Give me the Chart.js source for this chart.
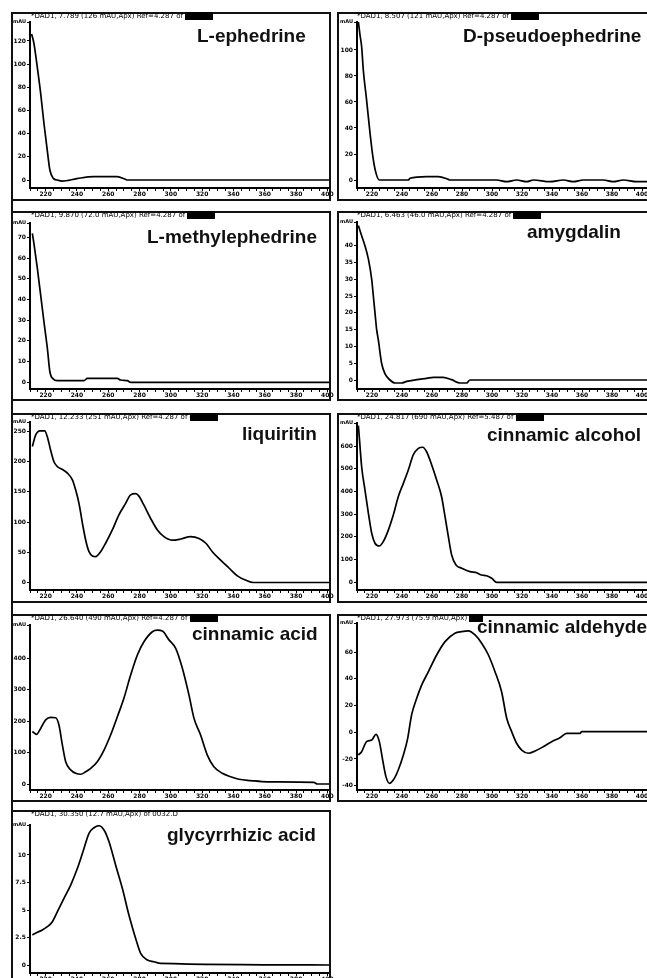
<!DOCTYPE html>
<html>
<head>
<meta charset="utf-8">
<script src="https://cdn.jsdelivr.net/npm/chart.js@4.4.1/dist/chart.umd.min.js"></script>
<style>
  html, body { margin: 0; padding: 0; background: #fff; overflow: hidden; width: 647px; height: 978px; }
  .frame { position: absolute; border: 2px solid #111; box-sizing: border-box; pointer-events: none; }
  .edge { position: absolute; left: 11px; top: 12px; width: 2px; height: 970px; background: #111; }
  canvas { position: absolute; }
  .name { position: absolute; font: bold 19px "Liberation Sans", Arial, sans-serif; line-height: 19px; white-space: nowrap; color: #111; }
  .head { position: absolute; font: 7px "DejaVu Sans", sans-serif; line-height: 7px; white-space: nowrap; color: #000; }
  .head b { background: #000; }
</style>
</head>
<body>
<div class="edge"></div>
<script>
// wavelength tick labels (nm), shared by every panel
const wlTicks = [220, 240, 260, 280, 300, 320, 340, 360, 380, 400];

const names = ['L-ephedrine', 'D-pseudoephedrine', 'L-methylephedrine', 'amygdalin',
  'liquiritin', 'cinnamic alcohol', 'cinnamic acid', 'cinnamic aldehyde', 'glycyrrhizic acid'];

const headers = [
  ['*DAD1, 7.789 (126 mAU,Apx) Ref=4.287 of ', '0032.D'],
  ['*DAD1, 8.507 (121 mAU,Apx) Ref=4.287 of ', '0032.D'],
  ['*DAD1, 9.870 (72.0 mAU,Apx) Ref=4.287 of ', '0032.D'],
  ['*DAD1, 6.463 (46.0 mAU,Apx) Ref=4.287 of ', '0032.D'],
  ['*DAD1, 12.233 (251 mAU,Apx) Ref=4.287 of ', '0032.D'],
  ['*DAD1, 24.817 (690 mAU,Apx) Ref=5.487 of ', '0032.D'],
  ['*DAD1, 26.640 (490 mAU,Apx) Ref=4.287 of ', '0032.D'],
  ['*DAD1, 27.973 (75.9 mAU,Apx) ', 'R.D'],
  ['*DAD1, 30.350 (12.7 mAU,Apx) of 0032.D', ''],
];

// spectra: wavelength (nm) / absorbance (mAU), y tick labels
const ephedrineWl = [211, 212.5, 214.6, 216.8, 218.9, 221, 222.7, 224.9, 227.4, 230.6, 240, 250.7, 265.6, 271, 272, 402];
const ephedrineAbs = [126, 118, 98, 75, 49, 26, 8.6, 1.4, 0, -1, 1.2, 2.9, 2.9, 0.6, 0, 0];
const ephedrineTicks = [0, 20, 40, 60, 80, 100, 120];

const pseudoWl = [210.9, 212, 213.1, 214.2, 216.4, 218.7, 220.9, 222.7, 224.9, 244.2, 245.3, 256.4, 264.2, 270.9, 272,
  303, 309.8, 316.4, 323.1, 327.6, 338.7, 347.6, 354.2, 360.9, 374.2, 380.9, 387.6, 396.4, 408];
const pseudoAbs = [121.8, 111.5, 102.5, 84.6, 61.5, 35.9, 15.4, 5.1, 0, 0, 1.3, 2.6, 2.6, 0.5, 0,
  0, -1.3, 0, -1.3, 0, -1.3, 0, -1.3, 0, 0, -1.3, 0, -1.3, -1.3];
const pseudoTicks = [0, 20, 40, 60, 80, 100];

const methylWl = [211.5, 212.5, 214.7, 216.8, 218.9, 221.1, 222.7, 224.9, 227.4, 244.5, 246.6, 265.8, 267.9, 272.2, 274.3, 402];
const methylAbs = [72, 67.1, 55, 42.2, 29.3, 16.4, 5.1, 1.6, 0.8, 0.8, 1.9, 1.9, 1.1, 0.8, 0, 0];
const methylTicks = [0, 10, 20, 30, 40, 50, 60, 70];

const amygdalinWl = [210.9, 213.1, 215.3, 217.6, 219.8, 220.9, 222, 223.1, 224.2, 226.4, 228.7, 232, 235.3, 239.8,
  243.1, 249.8, 256.4, 260.9, 267.5, 273.1, 278.7, 283.1, 285.3, 408];
const amygdalinAbs = [46, 43, 40, 36, 30, 25, 20, 15, 12, 5, 1.8, 0, -0.9, -0.9,
  -0.4, 0.1, 0.5, 0.8, 0.8, 0.1, -0.9, -0.9, 0, 0];
const amygdalinTicks = [0, 5, 10, 15, 20, 25, 30, 35, 40];

const liquiritinWl = [211.5, 213.6, 216.4, 219.4, 221.1, 223.2, 225.3, 227.5, 230.7, 233.9, 237.1, 239.2, 241.3, 243.5,
  245.6, 247.7, 249.9, 252, 255.1, 258.3, 262.6, 266.8, 271.1, 274.3, 277.5, 279.6, 282.8, 287.1, 291.4, 295.6,
  301, 306.3, 312.7, 318, 322.4, 326.5, 331.8, 337.1, 342.5, 347.8, 352.7, 402];
const liquiritinAbs = [225, 244, 251, 251, 241, 219, 200, 192, 187, 181, 170, 153, 131, 98,
  70, 51, 44, 43, 51, 65, 87, 112, 131, 145, 147, 143, 128, 106, 87, 76,
  70, 72, 76, 73, 65, 51, 37, 24, 11, 4, 0, 0];
const liquiritinTicks = [0, 50, 100, 150, 200, 250];

const alcoholWl = [210.9, 211.6, 213.1, 215.3, 217.6, 219.8, 222, 224.9, 227.5, 230.9, 234.2, 237.5, 240.9, 244.2,
  247.5, 250.9, 253.8, 256.4, 259.8, 263.1, 266.4, 268.7, 270.9, 273.1, 276, 279.8, 285.3, 289.8, 293.1, 296.4,
  299.8, 303.1, 408];
const alcoholAbs = [690, 634, 509, 407, 304, 216, 172, 160, 179, 230, 296, 377, 436, 495,
  561, 590, 595, 575, 517, 451, 377, 289, 201, 120, 76, 62, 47, 42, 32, 29,
  18, 0, 0];
const alcoholTicks = [0, 100, 200, 300, 400, 500, 600];

const acidWl = [211.5, 214.2, 216.8, 220, 223.2, 226.4, 228.5, 230.7, 232.8, 236, 239.2, 242.4, 245.6, 248.8,
  253, 257.3, 261.5, 265.8, 270, 274.3, 278.6, 282.8, 288.2, 291.4, 294.6, 298.8, 303.1, 307.4, 311.6, 314.8,
  319, 323.3, 327.5, 332.9, 338.2, 343.5, 351, 361.7, 391.4, 393.6, 402];
const acidAbs = [167, 158, 177, 204, 212, 211, 188, 124, 71, 45, 34, 31, 39, 50,
  71, 108, 156, 214, 273, 347, 411, 453, 485, 490, 487, 459, 432, 368, 283, 209,
  156, 92, 55, 34, 23, 15, 11, 7, 5, 0, 0];
const acidTicks = [0, 100, 200, 300, 400];

const aldehydeWl = [210.9, 213.1, 216.4, 219.8, 222.7, 224.9, 227.1, 229.3, 231.6, 234.2, 237.5, 240.9, 243.8, 246.4,
  249.8, 253.1, 257.6, 263.1, 268.7, 275.3, 279.8, 284.2, 288.7, 293.1, 297.6, 302, 306.4, 309.8, 313.1, 316.4,
  319.8, 324.2, 328.7, 334.2, 339.8, 345.3, 349.8, 358.7, 359.8, 408];
const aldehydeAbs = [-17, -14.5, -7, -5.8, -1.5, -7, -20.7, -33.2, -38.2, -35.7, -28.2, -17, -4.5, 13,
  25.5, 35.4, 45.4, 57.9, 67.9, 74.2, 75.4, 75.9, 72.9, 66.7, 57.9, 45.4, 30.4, 10.5, 0.5, -8.2,
  -13.3, -15.7, -14, -10.8, -7, -4, -0.8, -0.8, 0.5, 0.5];
const aldehydeTicks = [-40, -20, 0, 20, 40, 60];

const glycyrrhizicWl = [211.5, 214.7, 217.9, 221.1, 224.3, 227.5, 231.7, 236, 240.3, 244.5, 247.7, 250.9, 254.1, 257.3,
  260.5, 264.7, 269, 273.2, 277.5, 280.7, 285, 289.2, 293.5, 402];
const glycyrrhizicAbs = [2.73, 2.97, 3.18, 3.48, 3.94, 4.85, 6.06, 7.27, 8.79, 10.6, 11.97, 12.48, 12.66, 12.27,
  11.2, 9.09, 6.97, 4.55, 2.42, 1.06, 0.45, 0.3, 0.15, 0];
const glycyrrhizicTicks = [0, 2.5, 5, 7.5, 10];

const spectra = [
  [ephedrineWl, ephedrineAbs, ephedrineTicks],
  [pseudoWl, pseudoAbs, pseudoTicks],
  [methylWl, methylAbs, methylTicks],
  [amygdalinWl, amygdalinAbs, amygdalinTicks],
  [liquiritinWl, liquiritinAbs, liquiritinTicks],
  [alcoholWl, alcoholAbs, alcoholTicks],
  [acidWl, acidAbs, acidTicks],
  [aldehydeWl, aldehydeAbs, aldehydeTicks],
  [glycyrrhizicWl, glycyrrhizicAbs, glycyrrhizicTicks],
];

// page layout (px)
const cols = [
  { x: 11, w: 320, plotL: 30, plotR: 330, pxPerNm: 1.565 },
  { x: 337, w: 320, plotL: 357, plotR: 655, pxPerNm: 1.5 },
];
const rows = [
  { y: 12, h: 187 }, { y: 211, h: 188 }, { y: 413, h: 188 }, { y: 614, h: 186 }, { y: 810, h: 180 },
];
// plot top / x-axis line / pixel of 0 mAU / px per mAU
const boxes = [
  { top: 22, bottom: 188, zero: 180, ppu: 1.1585 },
  { top: 22, bottom: 188, zero: 180, ppu: 1.3 },
  { top: 223, bottom: 389, zero: 382.3, ppu: 2.07 },
  { top: 222, bottom: 389, zero: 380, ppu: 3.357 },
  { top: 422, bottom: 590, zero: 582.5, ppu: 0.604 },
  { top: 423, bottom: 590, zero: 582.3, ppu: 0.227 },
  { top: 625, bottom: 790, zero: 784, ppu: 0.314 },
  { top: 623, bottom: 790, zero: 732.3, ppu: 1.335 },
  { top: 825, bottom: 973, zero: 965, ppu: 11 },
];
const namePos = [[197, 26], [463, 26], [147, 227], [527, 222], [242, 424], [487, 425], [192, 624], [477, 617], [167, 825]];

const tickFont = { family: 'DejaVu Sans', size: 6, weight: 'bold' };
const unitFont = { family: 'DejaVu Sans', size: 5, weight: 'bold' };

spectra.forEach(([wl, abs, yTicks], i) => {
  const col = cols[i % 2];
  const row = rows[Math.floor(i / 2)];
  const box = boxes[i];

  const cw = col.w + 6;
  const canvas = document.createElement('canvas');
  canvas.width = cw;
  canvas.height = row.h;
  canvas.style.left = col.x + 'px';
  canvas.style.top = row.y + 'px';
  document.body.appendChild(canvas);

  const frame = document.createElement('div');
  frame.className = 'frame';
  Object.assign(frame.style, { left: col.x + 'px', top: row.y + 'px', width: col.w + 'px', height: (row.h + 2) + 'px' });
  document.body.appendChild(frame);

  const head = document.createElement('div');
  head.className = 'head';
  head.style.left = (col.x + 20) + 'px';
  head.style.top = (row.y + 1) + 'px';
  head.textContent = headers[i][0];
  if (headers[i][1]) {
    const b = document.createElement('b');
    b.textContent = headers[i][1];
    head.appendChild(b);
  }
  document.body.appendChild(head);

  const title = document.createElement('div');
  title.className = 'name';
  title.style.left = namePos[i][0] + 'px';
  title.style.top = namePos[i][1] + 'px';
  title.textContent = names[i];
  document.body.appendChild(title);

  const xMax = 210 + (col.plotR - col.plotL) / col.pxPerNm;
  const yMax = (box.zero - box.top) / box.ppu;
  const yMin = -(box.bottom - box.zero) / box.ppu;
  const minor = [];
  for (let v = 210; v <= 400; v += 5) minor.push(v);

  new Chart(canvas, {
    type: 'line',
    data: {
      datasets: [{
        data: wl.map((x, k) => ({ x, y: abs[k] })),
        borderColor: '#000',
        borderWidth: 1.7,
        pointRadius: 0,
        fill: false,
        cubicInterpolationMode: 'monotone'
      }]
    },
    options: {
      responsive: false,
      animation: false,
      devicePixelRatio: 1,
      layout: { padding: { top: box.top - row.y, right: col.x + cw - col.plotR, left: 0, bottom: 0 } },
      plugins: { legend: { display: false }, tooltip: { enabled: false } },
      scales: {
        x: {
          type: 'linear',
          min: 210,
          max: xMax,
          afterBuildTicks: s => { s.ticks = minor.map(v => ({ value: v })); },
          afterFit: s => { s.height = row.y + row.h - box.bottom; },
          grid: { drawOnChartArea: false, drawTicks: true, tickLength: 3, color: '#000' },
          border: { display: true, color: '#000', width: 2 },
          ticks: {
            autoSkip: false, maxRotation: 0, minRotation: 0, padding: 0, color: '#000', font: tickFont,
            callback: v => (wlTicks.includes(v) ? String(v) : '')
          }
        },
        y: {
          min: yMin,
          max: yMax,
          afterBuildTicks: s => { s.ticks = yTicks.concat([yMax]).map(v => ({ value: v })); },
          afterFit: s => { s.width = col.plotL - col.x; },
          grid: { drawOnChartArea: false, drawTicks: true, tickLength: 3, color: '#000' },
          border: { display: true, color: '#000', width: 2 },
          ticks: {
            autoSkip: false, padding: 1, color: '#000',
            font: ctx => (ctx.tick && ctx.tick.value === yMax ? unitFont : tickFont),
            callback: v => (v === yMax ? 'mAU' : String(v))
          }
        }
      }
    }
  });
});
</script>
</body>
</html>
